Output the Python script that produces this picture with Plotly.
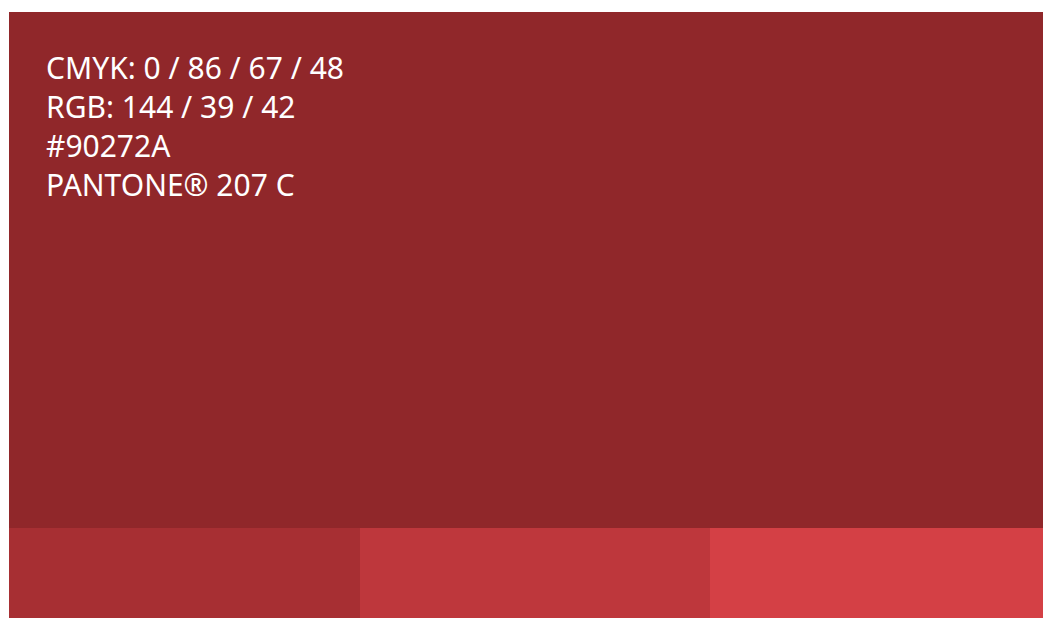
import plotly.graph_objects as go

# Data
main_color = "#90272A"
main_label_lines = ["CMYK: 0 / 86 / 67 / 48", "RGB: 144 / 39 / 42", "#90272A", "PANTONE® 207 C"]
tint_colors = ["#A72F33", "#BE373C", "#D44045"]
tint_positions = [0.5, 1.5, 2.5]
strip_height = 90
main_height = 516

fig = go.Figure()
fig.add_trace(go.Bar(x=[1.5], y=[main_height], base=[strip_height], width=[3],
                     marker=dict(color=main_color, line=dict(width=0)),
                     hoverinfo="skip", showlegend=False))
fig.add_trace(go.Bar(x=tint_positions, y=[strip_height] * 3, base=[0] * 3, width=[1] * 3,
                     marker=dict(color=tint_colors, line=dict(width=0)),
                     hoverinfo="skip", showlegend=False))

block_center_y = 126.5
fig.add_annotation(text="<br>".join(main_label_lines), xref="paper", yref="paper",
                   x=(44 - 9) / 1052, y=1 - (block_center_y - 12) / 606,
                   xanchor="left", yanchor="middle", align="left", showarrow=False,
                   font=dict(family="Noto Sans", size=30, color="white"))

fig.update_layout(
    width=1053, height=610,
    margin=dict(l=1, r=0, t=4, b=0),
    paper_bgcolor="white", plot_bgcolor="white",
    barmode="overlay", bargap=0,
    xaxis=dict(range=[0, 3], visible=False, fixedrange=True),
    yaxis=dict(range=[0, 606], visible=False, fixedrange=True),
)
fig.write_html("out.html")
